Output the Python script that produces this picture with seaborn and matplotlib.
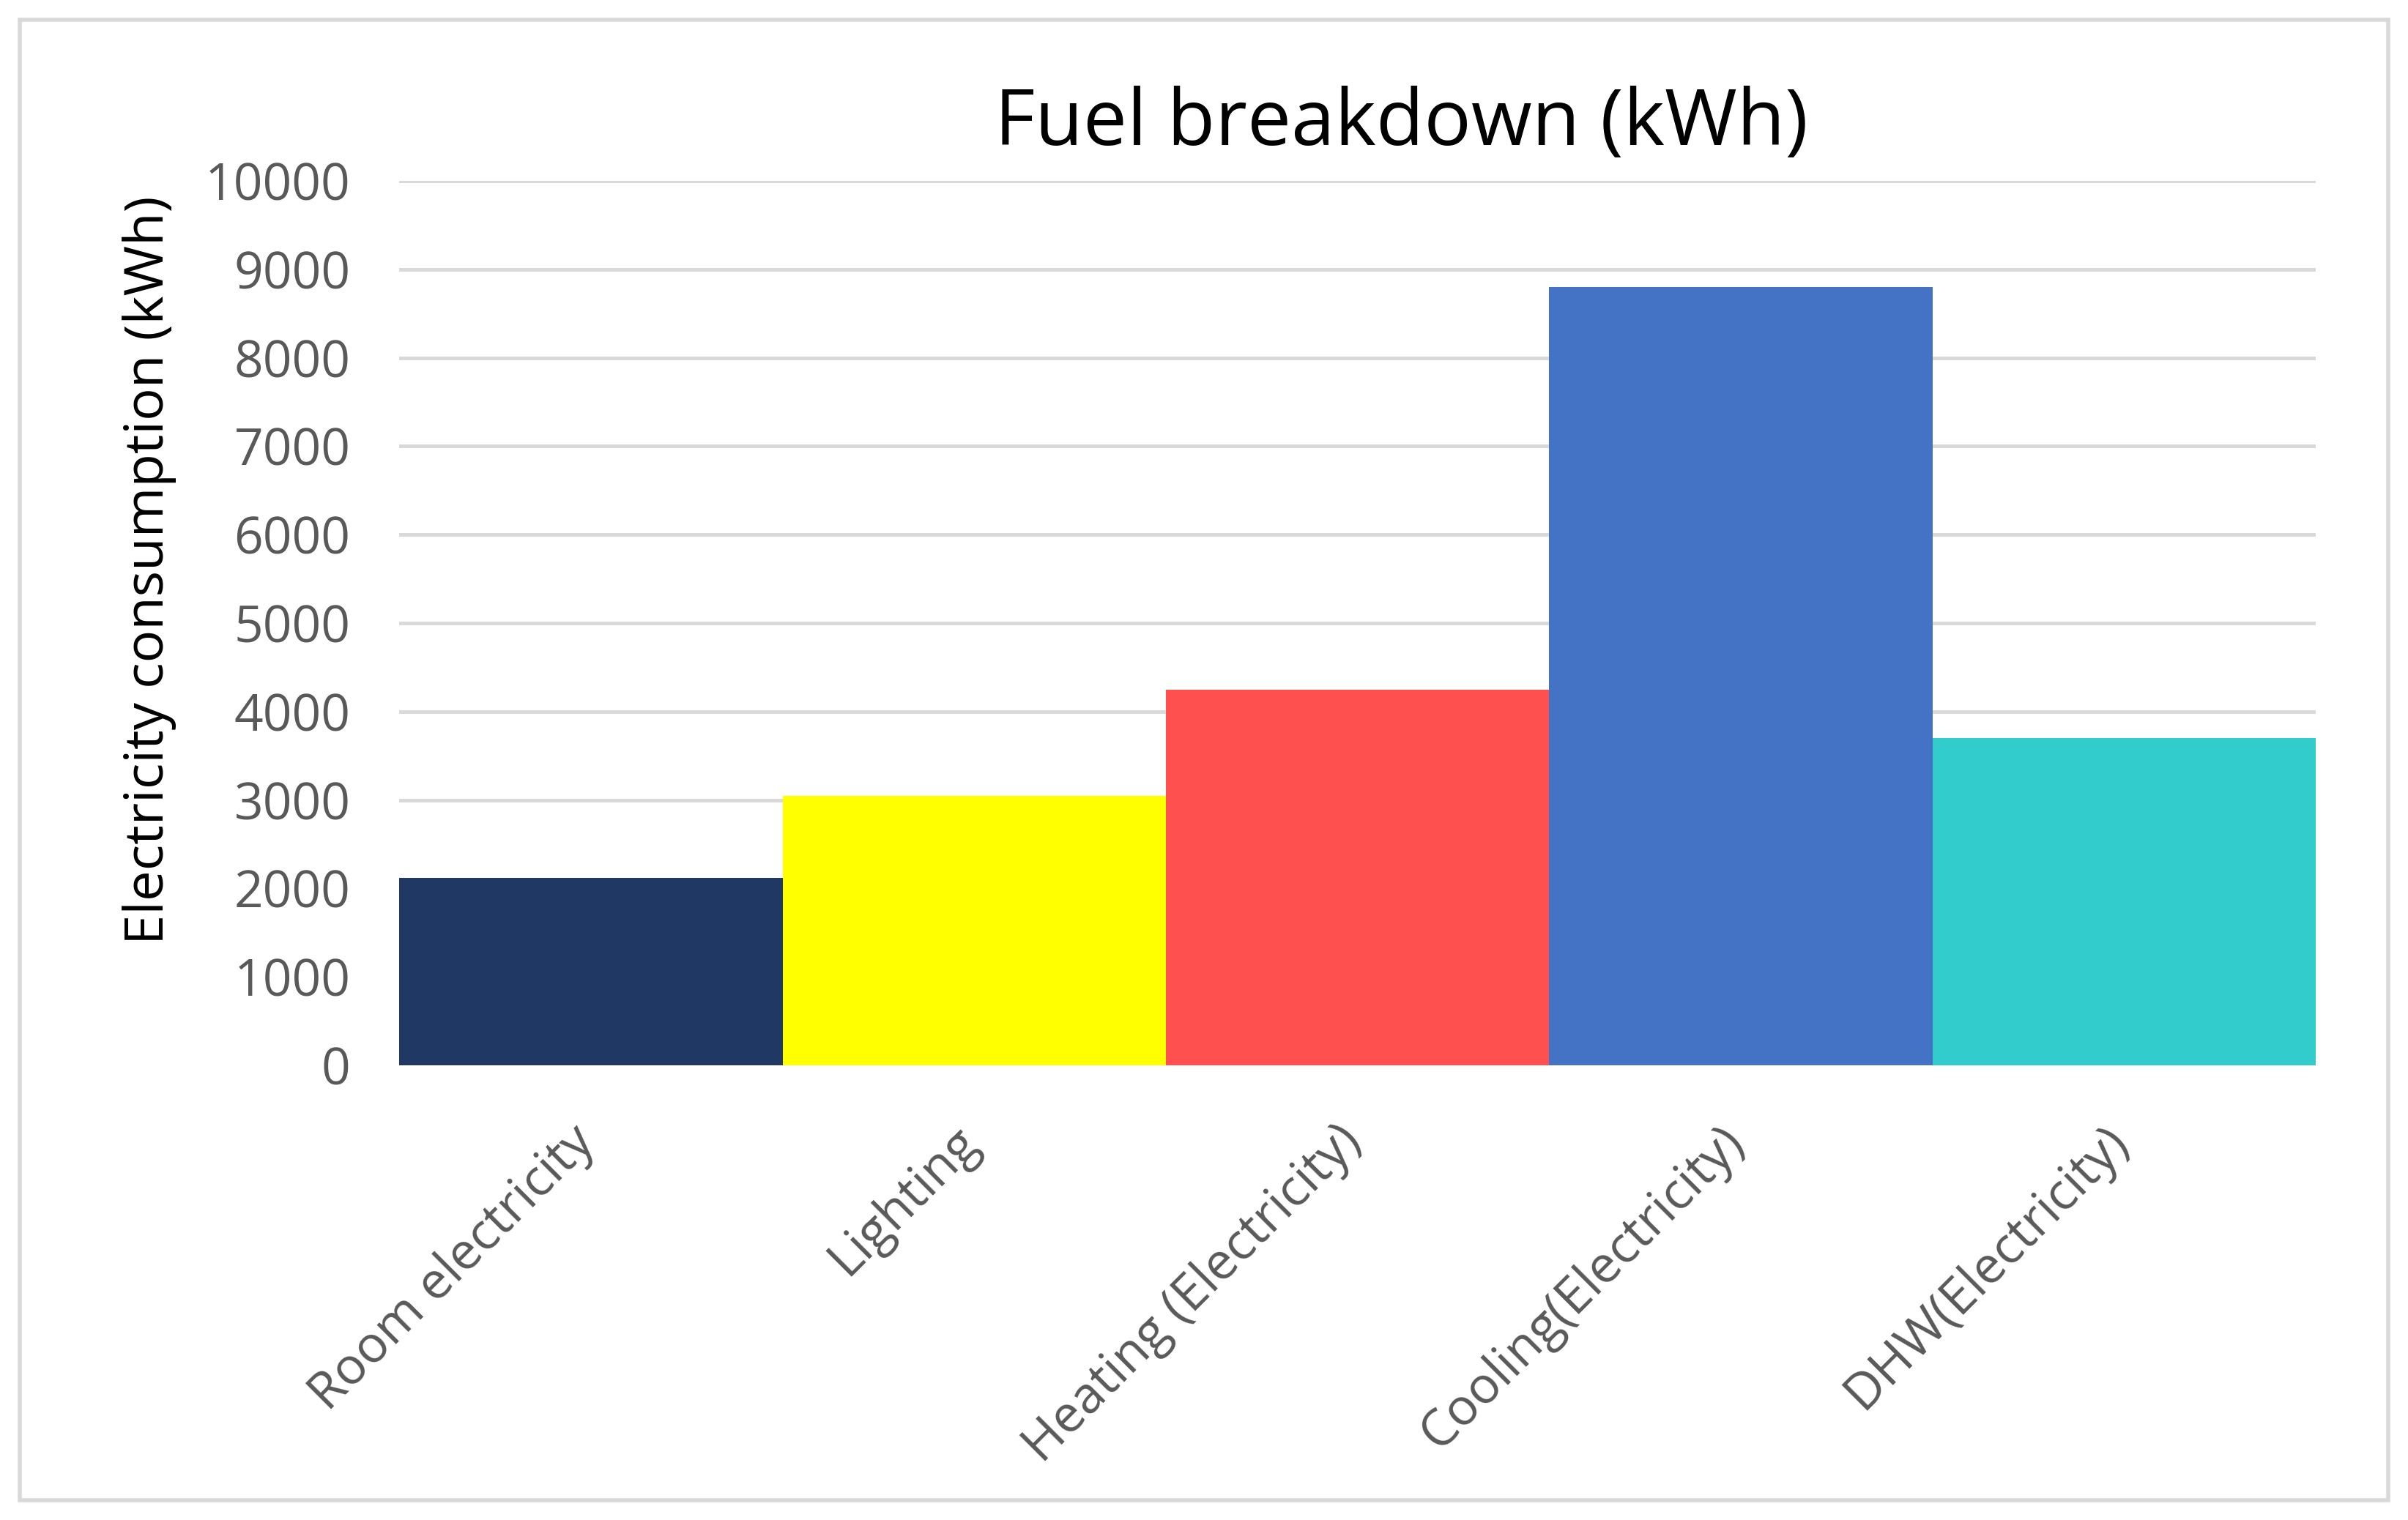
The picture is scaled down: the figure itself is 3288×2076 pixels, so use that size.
import matplotlib
matplotlib.use("Agg")
import matplotlib.pyplot as plt
import matplotlib.transforms as mtransforms
import seaborn as sns
import pandas as pd
from matplotlib.patches import Rectangle

categories = ["Room electricity", "Lighting", "Heating (Electricity)",
              "Cooling(Electricity)", "DHW(Electricity)"]
values = [2120, 3050, 4250, 8800, 3700]
colors = ["#203864", "#FFFF00", "#FF5050", "#4472C4", "#33CCCC"]
yticks = [0, 1000, 2000, 3000, 4000, 5000, 6000, 7000, 8000, 9000, 10000]

sns.set_theme(style="white")
plt.rcParams['font.family'] = ['Open Sans', 'DejaVu Sans']

df = pd.DataFrame({"cat": categories, "val": values})

fig = plt.figure(figsize=(32.88, 20.76), dpi=100)
fig.patch.set_facecolor("white")
ax = fig.add_axes([0.1658, 0.2991, 0.7959, 0.5819])

sns.barplot(data=df, x="cat", y="val", hue="cat", palette=colors,
            width=1.0, dodge=False, legend=False, ax=ax, saturation=1,
            linewidth=0, zorder=3)

ax.set_xlim(-0.5, 4.5)
ax.set_ylim(0, 10000)
ax.set_yticks(yticks)
ax.set_yticklabels([str(t) for t in yticks], fontsize=50, color="#595959")
ax.yaxis.grid(True, color="#d9d9d9", linewidth=3.5, zorder=0)
ax.set_axisbelow(True)
for s in ax.spines.values():
    s.set_visible(False)
ax.tick_params(axis="y", length=0, pad=48)
ax.tick_params(axis="x", length=0, pad=50)
ax.set_xlabel("")
ax.set_ylabel("")
ax.axhline(0, color="#d9d9d9", linewidth=4, zorder=1)
offset = mtransforms.ScaledTranslation(-0.30, 0, fig.dpi_scale_trans)
for lbl in ax.get_xticklabels():
    lbl.set_rotation(45)
    lbl.set_ha("right")
    lbl.set_rotation_mode("anchor")
    lbl.set_fontsize(50)
    lbl.set_color("#595959")
    lbl.set_transform(lbl.get_transform() + offset)

fig.text(0.582, 0.918, "Fuel breakdown (kWh)", ha="center", va="center",
         fontsize=77, color="black")
fig.text(0.062, 0.625, "Electricity consumption (kWh)", ha="center", va="center",
         rotation=90, fontsize=53.5, color="black")

fig.patches.append(Rectangle((27/3288, 1 - 2049/2076), (3261-27)/3288, (2049-27)/2076,
                             transform=fig.transFigure, fill=False,
                             edgecolor="#d9d9d9", linewidth=4))

fig.savefig("out.png", dpi=100, facecolor="white")
